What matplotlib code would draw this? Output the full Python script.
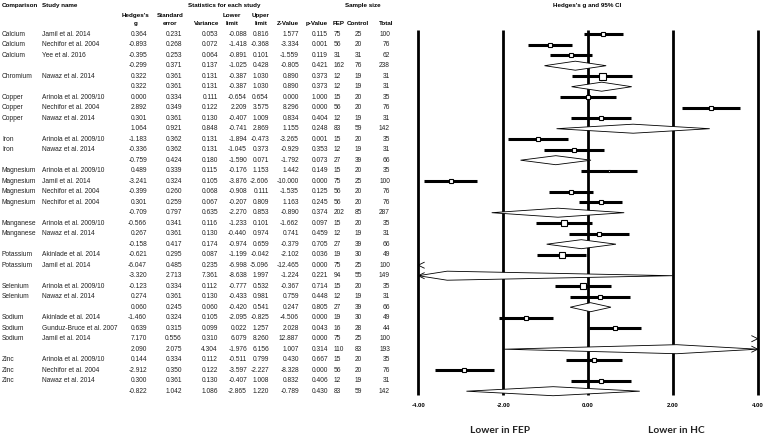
import matplotlib
matplotlib.use("Agg")
import matplotlib.pyplot as plt
import numpy as np
from matplotlib.patches import Polygon
from matplotlib.lines import Line2D

# ---------------- data ----------------
comparison = ["Calcium", "Calcium", "Calcium", "",
              "Chromium", "",
              "Copper", "Copper", "Copper", "",
              "Iron", "Iron", "",
              "Magnesium", "Magnesium", "Magnesium", "Magnesium", "",
              "Manganese", "Manganese", "",
              "Potassium", "Potassium", "",
              "Selenium", "Selenium", "",
              "Sodium", "Sodium", "Sodium", "",
              "Zinc", "Zinc", "Zinc", ""]
study = ["Jamil et al. 2014", "Nechifor et al. 2004", "Yee et al. 2016", "",
         "Nawaz et al. 2014", "",
         "Arinola et al. 2009/10", "Nechifor et al. 2004", "Nawaz et al. 2014", "",
         "Arinola et al. 2009/10", "Nawaz et al. 2014", "",
         "Arinola et al. 2009/10", "Jamil et al. 2014", "Nechifor et al. 2004", "Nechifor et al. 2004", "",
         "Arinola et al. 2009/10", "Nawaz et al. 2014", "",
         "Akinlade et al. 2014", "Jamil et al. 2014", "",
         "Arinola et al. 2009/10", "Nawaz et al. 2014", "",
         "Akinlade et al. 2014", "Gunduz-Bruce et al. 2007", "Jamil et al. 2014", "",
         "Arinola et al. 2009/10", "Nechifor et al. 2004", "Nawaz et al. 2014", ""]
hedges_g = [0.364, -0.893, -0.395, -0.299,
            0.322, 0.322,
            0.000, 2.892, 0.301, 1.064,
            -1.183, -0.336, -0.759,
            0.489, -3.241, -0.399, 0.301, -0.709,
            -0.566, 0.267, -0.158,
            -0.621, -6.047, -3.320,
            -0.123, 0.274, 0.060,
            -1.460, 0.639, 7.170, 2.090,
            0.144, -2.912, 0.300, -0.822]
std_err = [0.231, 0.268, 0.253, 0.371,
           0.361, 0.361,
           0.334, 0.349, 0.361, 0.921,
           0.362, 0.362, 0.424,
           0.339, 0.324, 0.260, 0.259, 0.797,
           0.341, 0.361, 0.417,
           0.295, 0.485, 2.713,
           0.334, 0.361, 0.245,
           0.324, 0.315, 0.556, 2.075,
           0.334, 0.350, 0.361, 1.042]
variance = [0.053, 0.072, 0.064, 0.137,
            0.131, 0.131,
            0.111, 0.122, 0.130, 0.848,
            0.131, 0.131, 0.180,
            0.115, 0.105, 0.068, 0.067, 0.635,
            0.116, 0.130, 0.174,
            0.087, 0.235, 7.361,
            0.112, 0.130, 0.060,
            0.105, 0.099, 0.310, 4.304,
            0.112, 0.122, 0.130, 1.086]
lower = [-0.088, -1.418, -0.891, -1.025,
         -0.387, -0.387,
         -0.654, 2.209, -0.407, -0.741,
         -1.894, -1.045, -1.590,
         -0.176, -3.876, -0.908, -0.207, -2.270,
         -1.233, -0.440, -0.974,
         -1.199, -6.998, -8.638,
         -0.777, -0.433, -0.420,
         -2.095, 0.022, 6.079, -1.976,
         -0.511, -3.597, -0.407, -2.865]
upper = [0.816, -0.368, 0.101, 0.428,
         1.030, 1.030,
         0.654, 3.575, 1.009, 2.869,
         -0.473, 0.373, 0.071,
         1.153, -2.606, 0.111, 0.809, 0.853,
         0.101, 0.974, 0.659,
         -0.042, -5.096, 1.997,
         0.532, 0.981, 0.541,
         -0.825, 1.257, 8.260, 6.156,
         0.799, -2.227, 1.008, 1.220]
z_value = [1.577, -3.334, -1.559, -0.805,
           0.890, 0.890,
           0.000, 8.296, 0.834, 1.155,
           -3.265, -0.929, -1.792,
           1.442, -10.000, -1.535, 1.163, -0.890,
           -1.662, 0.741, -0.379,
           -2.102, -12.465, -1.224,
           -0.367, 0.759, 0.247,
           -4.506, 2.028, 12.887, 1.007,
           0.430, -8.328, 0.832, -0.789]
p_value = [0.115, 0.001, 0.119, 0.421,
           0.373, 0.373,
           1.000, 0.000, 0.404, 0.248,
           0.001, 0.353, 0.073,
           0.149, 0.000, 0.125, 0.245, 0.374,
           0.097, 0.459, 0.705,
           0.036, 0.000, 0.221,
           0.714, 0.448, 0.805,
           0.000, 0.043, 0.000, 0.314,
           0.667, 0.000, 0.406, 0.430]
fep_n = [75, 56, 31, 162,
         12, 12,
         15, 56, 12, 83,
         15, 12, 27,
         15, 75, 56, 56, 202,
         15, 12, 27,
         19, 75, 94,
         15, 12, 27,
         19, 16, 75, 110,
         15, 56, 12, 83]
control_n = [25, 20, 31, 76,
             19, 19,
             20, 20, 19, 59,
             20, 19, 39,
             20, 25, 20, 20, 85,
             20, 19, 39,
             30, 25, 55,
             20, 19, 39,
             30, 28, 25, 83,
             20, 20, 19, 59]
total_n = [100, 76, 62, 238,
           31, 31,
           35, 76, 31, 142,
           35, 31, 66,
           35, 100, 76, 76, 287,
           35, 31, 66,
           49, 100, 149,
           35, 31, 66,
           49, 44, 100, 193,
           35, 76, 31, 142]
is_summary = [s == "" for s in study]
x_ticks = [-4.0, -2.0, 0.0, 2.0, 4.0]
x_min, x_max = -4.0, 4.0

# ---------------- layout ----------------
W, H = 765, 436
fig = plt.figure(figsize=(W / 100, H / 100), dpi=100)
FONT = "Liberation Sans"
FS = 4.8
HFS = 4.5

row0, dy = 34.2, 10.5          # pixel y of first row, row spacing
n = len(study)


def ypx(i):
    return row0 + dy * i


# forest-plot scale (pixel x of -4 and +4)
px_lo, px_hi = 418.3, 757.7
sc = (px_hi - px_lo) / (x_max - x_min)

ax_l, ax_r = 405.0, 765.0
ax_t, ax_b = 26.0, 400.0

# overlay axes in pixel coordinates for the table
tab = fig.add_axes([0, 0, 1, 1])
tab.set_xlim(0, W)
tab.set_ylim(H, 0)
tab.axis("off")
tab.set_zorder(0)

hb = dict(fontfamily=FONT, fontsize=HFS, fontweight="bold", color="black")
tab.text(2, 5, "Comparison", ha="left", va="center", **hb)
tab.text(42, 5, "Study name", ha="left", va="center", **hb)
tab.text(224, 5, "Statistics for each study", ha="center", va="center", **hb)
tab.text(363, 5, "Sample size", ha="center", va="center", **hb)
tab.text(587, 5, "Hedges's g and 95% CI", ha="center", va="center", **hb)

subs = [("Hedges's", "g", 136), ("Standard", "error", 170), ("", "Variance", 207),
        ("Lower", "limit", 232), ("Upper", "limit", 261), ("", "Z-Value", 288),
        ("", "p-Value", 317), ("", "FEP", 339), ("", "Control", 357.5), ("", "Total", 386)]
for top, bot, x in subs:
    if top:
        tab.text(x, 15.5, top, ha="center", va="center", **hb)
    tab.text(x, 23.5, bot, ha="center", va="center", **hb)

tb = dict(fontfamily=FONT, fontsize=FS, color="#222222", va="center")
cols = [(hedges_g, 147), (std_err, 182), (variance, 218), (lower, 247),
        (upper, 269), (z_value, 299), (p_value, 328)]
for i in range(n):
    y = ypx(i)
    if comparison[i]:
        tab.text(2, y, comparison[i], ha="left", **tb)
    if study[i]:
        tab.text(42, y, study[i], ha="left", **tb)
    for arr, xr in cols:
        tab.text(xr, y, f"{arr[i]:.3f}", ha="right", **tb)
    tab.text(334, y, f"{fep_n[i]}", ha="left", **tb)
    tab.text(358.5, y, f"{control_n[i]}", ha="center", **tb)
    tab.text(390, y, f"{total_n[i]}", ha="right", **tb)

# ---------------- forest axes ----------------
ax = fig.add_axes([ax_l / W, 1 - ax_b / H, (ax_r - ax_l) / W, (ax_b - ax_t) / H])
ax.set_zorder(2)
ax.set_xlim(x_min - (px_lo - ax_l) / sc, x_max + (ax_r - px_hi) / sc)
ax.set_ylim((ax_b - row0) / dy, (ax_t - row0) / dy)
ax.axis("off")
ax.patch.set_visible(False)


def yd(px):
    return (px - row0) / dy


# vertical reference lines at each tick value: placed through the forest axes'
# data transform, drawn as figure-level artists so nothing can hide them
for t in x_ticks:
    ln = Line2D([t, t], [yd(30.0), yd(395.0)], transform=ax.transData,
                color="black", lw=2.0, solid_capstyle="butt", zorder=1)
    ln.set_clip_on(False)
    fig.add_artist(ln)

# marker sizes from within-group inverse-variance weights
groups = []
cur = []
for i in range(n):
    if is_summary[i]:
        groups.append((cur, i))
        cur = []
    else:
        cur.append(i)
weight = np.zeros(n)
for members, s in groups:
    iv = np.array([1.0 / variance[k] for k in members])
    weight[members] = iv / iv.sum()

h = 0.43
arr_dx, arr_dy = 0.14, 0.28


def arrow(x_edge, direction, i):
    ax.plot([x_edge - direction * arr_dx, x_edge, x_edge - direction * arr_dx],
            [i - arr_dy, i, i + arr_dy], color="black", lw=0.6, zorder=4)


for i in range(n):
    g, lo, hi = hedges_g[i], lower[i], upper[i]
    if is_summary[i]:
        left = max(lo, x_min)
        right = min(hi, x_max)
        pts = [(left, i), (g, i - h), (right, i), (g, i + h)]
        ax.add_patch(Polygon(pts, closed=True, facecolor="white",
                             edgecolor="black", lw=0.6, zorder=3))
        if lo < x_min:
            arrow(x_min, -1, i)
        if hi > x_max:
            arrow(x_max, 1, i)
    else:
        if hi < x_min:
            arrow(x_min, -1, i)
            continue
        if lo > x_max:
            arrow(x_max, 1, i)
            continue
        ax.plot([max(lo, x_min), min(hi, x_max)], [i, i], color="black",
                lw=2.2, solid_capstyle="butt", zorder=2)
        side_px = 7.0 * np.sqrt(weight[i])
        ax.plot([g], [i], marker="s", markersize=side_px * 0.72,
                markerfacecolor="white", markeredgecolor="black",
                markeredgewidth=0.8, zorder=5)

for t in x_ticks:
    ax.text(t, yd(405.5), f"{t:.2f}", ha="center", va="center",
            fontfamily=FONT, fontsize=4.3, fontweight="bold", clip_on=False)

lb = dict(fontfamily="Lato", fontsize=7.3, fontweight="bold", ha="center",
          va="center", color="#222222")
ax.text(-2.07, yd(430.5), "Lower in FEP", clip_on=False, **lb)
ax.text(2.08, yd(430.5), "Lower in HC", clip_on=False, **lb)

fig.savefig("out.png", dpi=100)
